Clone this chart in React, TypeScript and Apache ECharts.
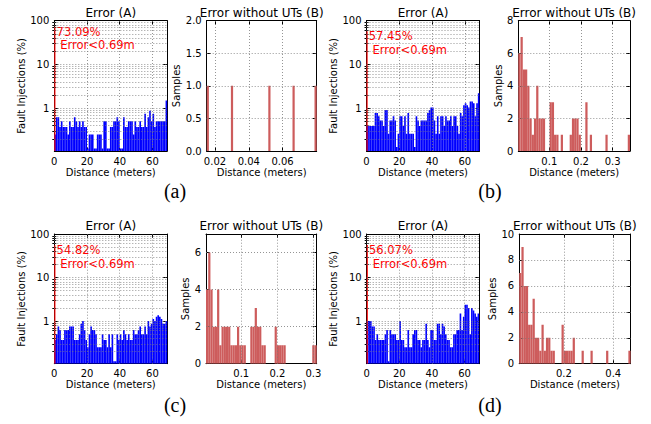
import React, { useEffect, useRef } from 'react';
import * as echarts from 'echarts';

// ---------- data ----------
const blueA = [0.25, 0.62, 0.62, 0.37, 0.5, 0.37, 0.37, 0.37, 0.25, 0.5,
  0.37, 0.37, 0.62, 0.5, 0.37, 0.5, 0.37, 0.5, 0.37, 0.37,
  0.12, 0.25, 0.25, 0.25, 0.12, 0.12, 0.25, 0.25, 0.25, 0.12,
  0.5, 0.5, 0.12, 0.12, 0.37, 0.37, 0.5, 0.5, 0.62, 0.5,
  0.12, 0.12, 0.62, 0.37, 0.37, 0.5, 0.5, 0.5, 0.25, 0.5,
  0.37, 0.37, 0.5, 0.37, 0.37, 0.75, 0.37, 0.62, 0.87, 0.5,
  0.75, 0.37, 0.5, 0.5, 0.5, 0.5, 0.5, 0.5, 1.5];
const blueB = [0.39, 0.39, 0.39, 0.39, 0.39, 0.78, 0.78, 0.65, 0.52, 0.52,
  0.39, 0.91, 0.91, 0.26, 0.52, 0.52, 0.65, 0.52, 0.13, 0.26,
  0.65, 0.65, 0.39, 0.65, 0.26, 0.78, 0.26, 0.26, 0.26, 0.13,
  0.65, 0.52, 0.39, 0.52, 0.52, 0.52, 0.52, 0.78, 0.91, 1.04,
  1.04, 0.52, 0.26, 0.65, 0.26, 0.65, 0.65, 0.39, 0.65, 0.52,
  0.52, 0.65, 0.39, 0.65, 0.65, 0.39, 0.26, 0.78, 0.65, 1.17,
  1.3, 1.17, 1.04, 1.43, 1.43, 1.3, 0.65, 1.3, 2.2];
const blueC = [0.37, 0.5, 0.75, 0.62, 0.37, 0.37, 0.62, 0.62, 0.62, 0.75,
  0.75, 0.75, 0.37, 0.37, 0.37, 0.5, 0.87, 1.0, 0.62, 0.37,
  0.25, 0.5, 0.75, 0.62, 0.62, 0.5, 0.25, 0.25, 0.25, 0.5,
  0.37, 0.37, 0.25, 0.5, 0.25, 0.5, 0.12, 0.12, 0.5, 0.37,
  0.5, 0.37, 0.62, 0.5, 0.37, 0.5, 0.37, 0.37, 0.62, 0.5,
  0.5, 0.62, 0.75, 0.5, 0.5, 0.75, 0.5, 1.0, 0.75, 0.87,
  1.12, 1.0, 1.25, 1.37, 1.25, 1.12, 0.87, 0.87, 1.0];
const blueD = [1.0, 1.0, 1.0, 0.75, 0.75, 0.37, 0.5, 0.37, 0.37, 0.37,
  0.37, 0.5, 0.62, 0.12, 0.62, 0.5, 0.5, 0.5, 0.37, 0.37,
  1.0, 0.37, 0.37, 0.25, 0.25, 0.62, 0.25, 0.25, 0.5, 0.62,
  0.62, 0.37, 0.37, 0.25, 0.37, 0.37, 0.87, 0.37, 0.25, 0.62,
  0.62, 0.37, 0.37, 0.87, 0.87, 0.5, 0.87, 0.75, 0.5, 0.37,
  0.37, 0.25, 0.25, 0.5, 0.5, 0.62, 0.62, 1.5, 0.62, 1.25,
  2.37, 2.37, 2.0, 0.5, 2.0, 1.75, 1.5, 1.25, 1.5];

const nearPct = [73.09, 57.45, 54.82, 56.07];
const nearLimit = 0.69;

const redA = [1, 0, 0, 0, 0, 0, 0, 0, 0, 0, 0, 1, 0, 0, 0, 0, 0, 0, 0, 0, 0, 0, 0, 0, 0,
  0, 0, 0, 1, 0, 0, 0, 0, 0, 0, 0, 0, 0, 0, 1, 0, 0, 0, 0, 0, 0, 0, 0, 0, 1];
const redB = [6, 7, 5, 5, 4, 2, 1, 2, 4, 2, 2, 2, 0, 0, 3, 3, 1, 1, 0, 1, 0, 0, 0, 1, 2,
  2, 2, 1, 0, 0, 3, 0, 1, 0, 0, 0, 0, 0, 0, 1, 0, 0, 0, 0, 0, 0, 0, 0, 0, 1];
const redC = [4, 6, 4, 2, 2, 4, 1, 2, 2, 2, 2, 1, 1, 1, 2, 1, 1, 1, 0, 0, 2, 2, 3, 2, 2,
  1, 1, 0, 0, 0, 0, 2, 1, 1, 1, 1, 0, 0, 0, 0, 0, 0, 0, 0, 0, 0, 0, 0, 1, 1];
const redD = [7, 9, 6, 6, 3, 3, 5, 2, 2, 1, 3, 1, 2, 2, 1, 1, 0, 0, 0, 3, 1, 1, 1, 1, 2,
  0, 0, 0, 1, 0, 0, 0, 1, 0, 0, 0, 0, 0, 0, 1, 0, 0, 0, 0, 0, 0, 0, 0, 0, 1];

const redXRange = [[0.0151, 0.0802], [0.0022, 0.3546], [0.0023, 0.309], [0.019, 0.4703]];
const redYMax = [2, 8, 7, 10];
const redXTicks = [[0.02, 0.04, 0.06], [0.1, 0.2, 0.3], [0.1, 0.2, 0.3], [0.2, 0.4]];
const redYTicks = [[0, 0.5, 1, 1.5, 2], [0, 2, 4, 6, 8], [0, 2, 4, 6], [0, 2, 4, 6, 8, 10]];

const blueXMax = 69;
const blueYMin = 0.105;
const blueYMax = 100;
const blueXTicks = [0, 20, 40, 60];
const blueYTicks = [1, 10, 100];
const blueYMinor = [0.2, 0.3, 0.4, 0.5, 0.6, 0.7, 0.8, 0.9, 2, 3, 4, 5, 6, 7, 8, 9,
  20, 30, 40, 50, 60, 70, 80, 90];

const panelLetters = ['(a)', '(b)', '(c)', '(d)'];
const blueTitle = 'Error (A)';
const redTitle = 'Error without UTs (B)';
const xName = 'Distance (meters)';
const blueYName = 'Fault Injections (%)';
const redYName = 'Samples';

const BLUE_SERIES = [blueA, blueB, blueC, blueD];
const RED_SERIES = [redA, redB, redC, redD];

// ---------- layout / style ----------
const FONT = 'DejaVu Sans';
const ROW_TOP = [20.7, 234];
const ROW_H = [130.3, 129.7];
const BLUE_BOX = [[54.3, 112.9], [366.5, 113], [54.3, 112.9], [366.7, 112.5]];
const RED_BOX = [[206.7, 110], [518.3, 111.7], [206, 110.7], [519.2, 111.4]];
const RED_NAME_GAP = [20, 13, 14, 17];
const LABEL_POS = [[175, 191], [490, 191], [175, 405], [490, 405]];
const BLUE = '#0000ff';
const RED_BAR = '#cd5c5c';
const GRID_LINE = { type: [1, 2], color: '#7a7a7a', width: 0.8 };

function axisBase(g: number, type: string, min: number, max: number, position: string) {
  const a: any = {
    gridIndex: g, type, min, max, position,
    axisLine: { show: true, onZero: false, lineStyle: { color: '#000', width: 1 } },
    splitLine: { show: false },
    axisLabel: { show: false },
    axisTick: { show: false },
  };
  if (type === 'log') a.logBase = 10;
  return a;
}

function tickAxis(a: any, ticks: number[], len: number, showLine = true) {
  a.axisTick = { show: true, inside: true, length: len, customValues: ticks, lineStyle: { color: '#000', width: 1 } };
  if (!showLine) a.axisLine = { show: false };
  return a;
}

function labelAxis(a: any, ticks: number[], fmt: (v: number) => string) {
  a.axisLabel = {
    show: true, customValues: ticks, formatter: fmt, color: '#000',
    fontFamily: FONT, fontSize: 10, margin: 5,
  };
  return a;
}

function nameAxis(a: any, name: string, gap: number) {
  a.name = name;
  a.nameLocation = 'middle';
  a.nameGap = gap;
  a.nameTextStyle = { fontFamily: FONT, fontSize: 10, color: '#000' };
  return a;
}

function rectRender(base: number, color: string) {
  return (params: any, api: any) => {
    const x0 = api.value(0), x1 = api.value(1), v = api.value(2);
    const a = api.coord([x0, v]);
    const b = api.coord([x1, base]);
    return {
      type: 'rect',
      shape: { x: a[0], y: a[1], width: b[0] - a[0], height: b[1] - a[1] },
      style: { fill: color },
    };
  };
}

function build() {
  const grid: any[] = [], xAxis: any[] = [], yAxis: any[] = [], series: any[] = [], graphic: any[] = [];
  const mains: { x: number; y: number }[] = [];

  for (let p = 0; p < 4; p++) {
    const row = p < 2 ? 0 : 1;
    const top = ROW_TOP[row], h = ROW_H[row];

    // ----- blue (log) panel -----
    const [bl, bw] = BLUE_BOX[p];
    grid.push({ left: bl, top, width: bw, height: h, show: false });
    let g = grid.length - 1;
    let xi = xAxis.length;
    xAxis.push(nameAxis(labelAxis(tickAxis(axisBase(g, 'value', 0, blueXMax, 'bottom'), blueXTicks, 4), blueXTicks, (v) => String(v)), xName, 16));
    xAxis.push(tickAxis(axisBase(g, 'value', 0, blueXMax, 'top'), blueXTicks, 4));
    let yi = yAxis.length;
    yAxis.push(nameAxis(labelAxis(tickAxis(axisBase(g, 'log', blueYMin, blueYMax, 'left'), blueYTicks, 4), blueYTicks, (v) => String(Math.round(v))), blueYName, 27));
    yAxis.push(tickAxis(axisBase(g, 'log', blueYMin, blueYMax, 'right'), blueYTicks, 4));
    yAxis.push(tickAxis(axisBase(g, 'log', blueYMin, blueYMax, 'left'), blueYMinor, 2, false));
    yAxis.push(tickAxis(axisBase(g, 'log', blueYMin, blueYMax, 'right'), blueYMinor, 2, false));
    mains.push({ x: xi, y: yi });

    const bins = BLUE_SERIES[p];
    const bData = bins.map((v, i) => [i, i + 1, v]).filter((d) => d[2] > blueYMin);
    series.push({
      type: 'custom', xAxisIndex: xi, yAxisIndex: yi, z: 2,
      encode: { x: [0, 1], y: 2 },
      renderItem: rectRender(blueYMin, BLUE),
      data: bData,
      clip: true,
      markLine: {
        silent: true, symbol: ['none', 'none'], label: { show: false }, animation: false,
        lineStyle: GRID_LINE, emphasis: { disabled: true },
        data: [
          ...blueXTicks.filter((v) => v > 0 && v < blueXMax).map((v) => ({ xAxis: v })),
          ...[...blueYMinor, 1, 10].map((v) => ({ yAxis: v })),
        ],
      },
    });
    series.push({
      type: 'custom', xAxisIndex: xi, yAxisIndex: yi, z: 3,
      encode: { x: [0, 1], y: 2 },
      renderItem: rectRender(blueYMin, '#ff0000'),
      data: [[0, nearLimit, nearPct[p]]],
      clip: true,
    });
    graphic.push({
      type: 'text', x: bl + bw / 2, y: row === 0 ? 12.5 : 225.5,
      style: { text: blueTitle, fontFamily: FONT, fontSize: 12, fill: '#000', align: 'center', verticalAlign: 'middle' },
    });

    // ----- red (linear) panel -----
    const [rl, rw] = RED_BOX[p];
    grid.push({ left: rl, top, width: rw, height: h, show: false });
    g = grid.length - 1;
    const [xmin, xmax] = redXRange[p];
    const ymax = redYMax[p];
    xi = xAxis.length;
    xAxis.push(nameAxis(labelAxis(tickAxis(axisBase(g, 'value', xmin, xmax, 'bottom'), redXTicks[p], 4), redXTicks[p], (v) => String(v)), xName, 16));
    xAxis.push(tickAxis(axisBase(g, 'value', xmin, xmax, 'top'), redXTicks[p], 4));
    yi = yAxis.length;
    const yfmt = p === 0 ? (v: number) => v.toFixed(1) : (v: number) => String(v);
    yAxis.push(nameAxis(labelAxis(tickAxis(axisBase(g, 'value', 0, ymax, 'left'), redYTicks[p], 4), redYTicks[p], yfmt), redYName, RED_NAME_GAP[p]));
    yAxis.push(tickAxis(axisBase(g, 'value', 0, ymax, 'right'), redYTicks[p], 4));

    const counts = RED_SERIES[p];
    const w = (xmax - xmin) / counts.length;
    const rData = counts.map((c, k) => [xmin + k * w, xmin + (k + 1) * w, c]).filter((d) => d[2] > 0);
    series.push({
      type: 'custom', xAxisIndex: xi, yAxisIndex: yi, z: 2,
      encode: { x: [0, 1], y: 2 },
      renderItem: rectRender(0, RED_BAR),
      data: rData,
      clip: true,
      markLine: {
        silent: true, symbol: ['none', 'none'], label: { show: false }, animation: false,
        lineStyle: GRID_LINE, emphasis: { disabled: true },
        data: [
          ...redXTicks[p].filter((v) => v > xmin && v < xmax).map((v) => ({ xAxis: v })),
          ...redYTicks[p].filter((v) => v > 0 && v < ymax).map((v) => ({ yAxis: v })),
        ],
      },
    });
    graphic.push({
      type: 'text', x: rl + rw / 2, y: row === 0 ? 12.5 : 225.5,
      style: { text: redTitle, fontFamily: FONT, fontSize: 12, fill: '#000', align: 'center', verticalAlign: 'middle' },
    });

    // panel letter
    graphic.push({
      type: 'text', x: LABEL_POS[p][0], y: LABEL_POS[p][1],
      style: { text: panelLetters[p], fontFamily: 'Liberation Serif', fontSize: 20, fill: '#000', align: 'center', verticalAlign: 'middle' },
    });
  }

  const option: any = {
    animation: false,
    backgroundColor: '#fff',
    grid, xAxis, yAxis, series,
  };
  return { option, graphic, mains };
}

export default function App() {
  const ref = useRef<HTMLDivElement>(null);
  useEffect(() => {
    if (!ref.current) return;
    const chart = echarts.init(ref.current, null, { renderer: 'svg' });
    const { option, graphic, mains } = build();
    chart.setOption(option);
    const g = [...graphic];
    mains.forEach((m, p) => {
      const pt = chart.convertToPixel({ xAxisIndex: m.x, yAxisIndex: m.y } as any, [1.4, nearPct[p]]) as number[];
      g.push({
        type: 'text', x: pt[0], y: pt[1] - 1,
        style: { text: nearPct[p].toFixed(2) + '%', fontFamily: FONT, fontSize: 11.5, fill: '#ff0000', align: 'left', verticalAlign: 'top' },
      });
      g.push({
        type: 'text', x: pt[0] + 3.7, y: pt[1] - 1 + 13.6,
        style: { text: 'Error<' + nearLimit + 'm', fontFamily: FONT, fontSize: 11.5, fill: '#ff0000', align: 'left', verticalAlign: 'top' },
      });
    });
    chart.setOption({ graphic: g });
    return () => chart.dispose();
  }, []);
  return <div ref={ref} style={{ position: 'fixed', left: 0, top: 0, width: 651, height: 424, background: '#fff' }} />;
}
